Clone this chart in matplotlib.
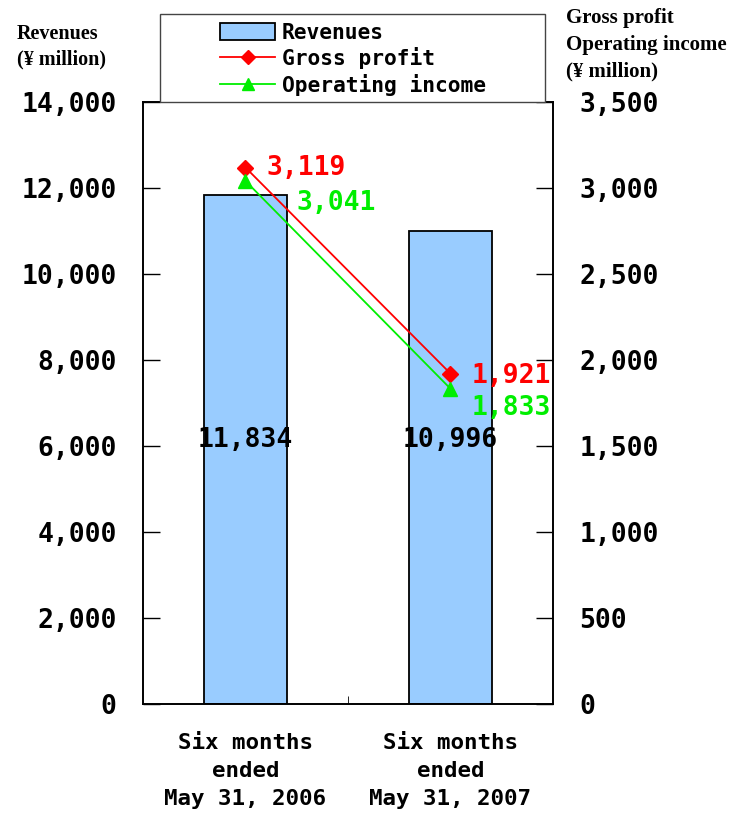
import matplotlib
matplotlib.use("Agg")
import matplotlib.pyplot as plt
from matplotlib.patches import Rectangle
from matplotlib.lines import Line2D
from matplotlib.ticker import FuncFormatter

# data
periods = ["Six months\nended\nMay 31, 2006", "Six months\nended\nMay 31, 2007"]
revenues = [11834, 10996]
gross_profit = [3119, 1921]
operating_income = [3041, 1833]

# the original uses a fixed-pitch Japanese gothic face
plt.rcParams['font.family'] = ['DejaVu Sans Mono', 'Noto Sans CJK JP']
plt.rcParams['font.weight'] = 'bold'

BLUE = '#99CCFF'
RED = '#FF0000'
GREEN = '#00EE00'

fig = plt.figure(figsize=(7.31, 8.18), dpi=100)
ax = fig.add_axes([143 / 731, 114 / 818, 410 / 731, 602 / 818])
ax2 = ax.twinx()

x = list(range(len(periods)))
ax.bar(x, revenues, width=0.405, color=BLUE, edgecolor='black', linewidth=1.3, zorder=2)
ax.set_xlim(-0.5, 1.5)
ax.set_ylim(0, 14000)
ax.set_yticks(range(0, 14001, 2000))

comma = FuncFormatter(lambda v, p: f"{int(v):,}")
ax.yaxis.set_major_formatter(comma)
ax.tick_params(axis='y', direction='in', length=12, width=1, pad=19, labelsize=19)
ax.set_xticks(x)
ax.set_xticklabels(periods, fontsize=16.2, linespacing=1.5)
ax.tick_params(axis='x', length=0, pad=21)
ax.set_xticks([0.5], minor=True)
ax.tick_params(axis='x', which='minor', direction='in', length=6)

# value labels inside the bars sit at the same height
for xi, v in zip(x, revenues):
    ax.text(xi, 6150, f"{v:,}", ha='center', va='center', fontsize=19, color='black', zorder=5)

ax2.set_ylim(0, 3500)
ax2.set_yticks(range(0, 3501, 500))
ax2.yaxis.set_major_formatter(comma)
ax2.tick_params(axis='y', direction='in', length=12, width=1, pad=19, labelsize=19)

ax2.plot(x, gross_profit, color=RED, lw=1.3, marker='D', ms=8, zorder=3)
ax2.plot(x, operating_income, color=GREEN, lw=1.3, marker='^', ms=10, zorder=3)

ax2.annotate(f"{gross_profit[0]:,}", (x[0], gross_profit[0]), xytext=(15, 0),
             textcoords='offset points', ha='left', va='center', color=RED, fontsize=19)
ax2.annotate(f"{operating_income[0]:,}", (x[0], operating_income[0]), xytext=(37, -16),
             textcoords='offset points', ha='left', va='center', color=GREEN, fontsize=19)
ax2.annotate(f"{gross_profit[1]:,}", (x[1], gross_profit[1]), xytext=(15, -2),
             textcoords='offset points', ha='left', va='center', color=RED, fontsize=19)
ax2.annotate(f"{operating_income[1]:,}", (x[1], operating_income[1]), xytext=(15, -14),
             textcoords='offset points', ha='left', va='center', color=GREEN, fontsize=19)

for a in (ax, ax2):
    for s in a.spines.values():
        s.set_linewidth(1.2)

# axis titles
serif = ['Liberation Serif', 'DejaVu Serif']
fig.text(17 / 731, 1 - 24 / 818, "Revenues\n(¥ million)", ha='left', va='top',
         fontsize=14.5, family=serif, weight='bold', linespacing=1.35)
fig.text(566 / 731, 1 - 8 / 818, "Gross profit\nOperating income\n(¥ million)", ha='left', va='top',
         fontsize=15, family=serif, weight='bold', linespacing=1.45)

# legend box
fig.patches.append(Rectangle((160 / 731, 1 - 102 / 818), 385 / 731, 88 / 818,
                             transform=fig.transFigure, facecolor='white',
                             edgecolor='#444444', linewidth=1, zorder=0))
handles = [
    Rectangle((0, 0), 1, 1, facecolor=BLUE, edgecolor='black', linewidth=1.3),
    Line2D([], [], color=RED, lw=1.3, marker='D', ms=7),
    Line2D([], [], color=GREEN, lw=1.3, marker='^', ms=9),
]
fig.legend(handles, ["Revenues", "Gross profit", "Operating income"],
           loc='upper left', bbox_to_anchor=(220 / 731, 1 - 23 / 818),
           frameon=False, fontsize=15.3, handlelength=2.6, handleheight=0.85,
           handletextpad=0.3, labelspacing=0.2, borderpad=0, borderaxespad=0)

fig.savefig("out.png", dpi=100)
